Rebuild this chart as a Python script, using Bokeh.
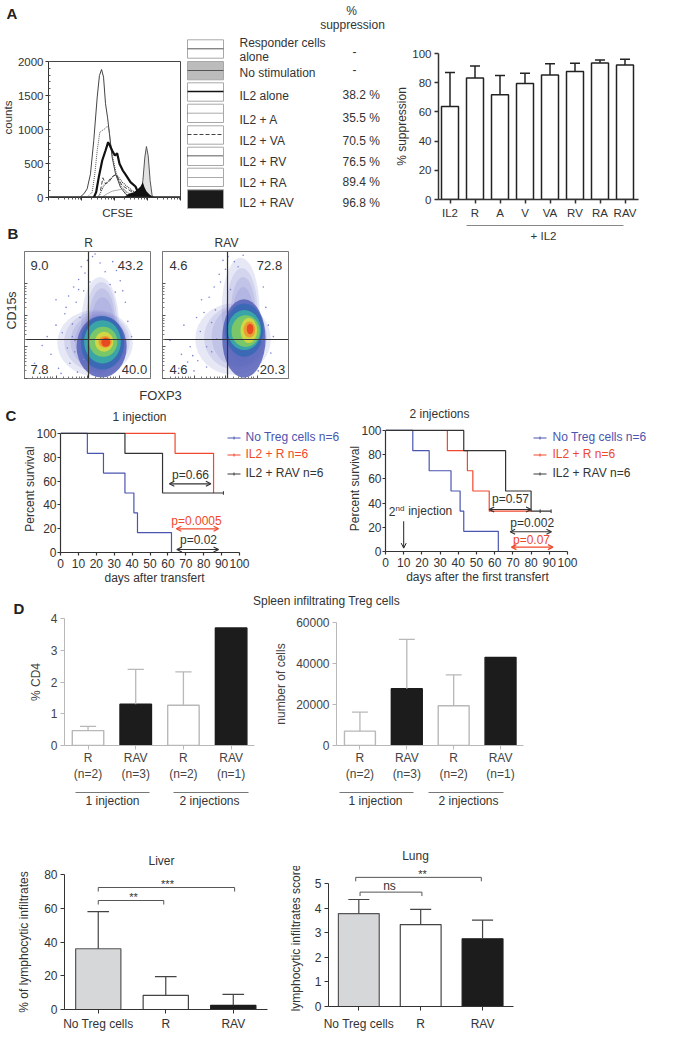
from bokeh.plotting import figure
from bokeh.layouts import row, column
from bokeh.models import Label, Arrow, OpenHead, FixedTicker, Range1d
from bokeh.embed import file_html
from bokeh.resources import INLINE

TXT = "#333333"
FONT = "Liberation Sans"
BLUE, RED, DARK = "#4a55b0", "#f0482c", "#3a3a3a"

# ---- Panel A histogram (channel, counts)
resp_x = [242,268,293,318,343,369,386,402,417,432,447,462,482,508,545,583,621]
resp_y = [10,54,128,348,839,1476,1794,1883,1770,1378,1182,937,594,348,152,54,10]
a_x = [306,331,351,369,389,407,427,444,457,470,487,508,545,596]
a_y = [29,79,348,691,961,986,1010,1044,1010,790,594,397,177,54]
il2_x = [343,361,381,407,432,452,465,482,503,520,538,563,588,621,659,684,710]
il2_y = [0,79,300,544,691,814,765,691,618,652,495,397,324,226,162,54,0]
va_x = [394,412,432,457,482,508,528,558,596,634,672]
va_y = [103,290,201,226,299,338,275,177,128,79,29]
rv_x = [381,419,457,495,520,558,596,634,672]
rv_y = [15,177,250,324,324,226,162,103,54]
ra_x = [407,444,482,533,571,596,634]
ra_y = [5,54,93,113,128,79,29]
nostim_x = [697,715,730,742,755,770,785,798]
nostim_y = [15,250,594,750,618,250,29,5]
rav_x = [571,608,646,679,697,715,727,742,765,798]
rav_y = [5,54,79,128,162,226,152,93,44,5]

# ---- Panel A table
sw_labels = ["Responder cells", "alone", "No stimulation", "IL2 alone", "IL2 + A", "IL2 + VA", "IL2 + RV", "IL2 + RA", "IL2 + RAV"]
sw_pct = ["-", "-", "38.2 %", "35.5 %", "70.5 %", "76.5 %", "89.4 %", "96.8 %"]

# ---- Panel A bars
a_cats = ["IL2", "R", "A", "V", "VA", "RV", "RA", "RAV"]
a_vals = [63.7, 83.2, 71.7, 79.4, 85.2, 87.7, 93.5, 92.2]
a_tops = [87, 91.5, 85, 86.5, 93, 93.3, 95.5, 96]

# ---- Panel B density: soft halo levels, then core levels (centre x, centre y, width, height)
core_cols = ["#5560b8","#3568b4","#3bb0a4","#86cc5e","#e0d840","#f09030","#e83c20"]
r_hx = [560,575,590,600,600,610,615,620]
r_hy = [280,290,290,290,420,440,440,430]
r_hw = [600,520,450,400,300,250,210,180]
r_hh = [520,470,440,420,760,640,540,420]
r_cx = [612,619,619,625,632,640,645]
r_cy = [250,281,289,289,289,289,285]
r_w = [397,344,291,225,146,106,71]
r_h = [486,420,341,236,157,92,71]
v_hx = [560,580,600,620,630,640,640]
v_hy = [310,320,330,540,520,500,480]
v_hw = [600,500,420,300,250,200,170]
v_hh = [560,500,470,820,700,600,480]
v_cx = [646,650,650,660,685,690,695]
v_cy = [315,381,381,373,378,385,390]
v_w = [344,304,265,225,132,93,53]
v_h = [617,420,315,250,197,126,84]
r_sx = [80,140,180,210,250,270,300,320,340,350,360,380,390,400,410,420,430,440,450,470,480,500,520,540,700,730,760,780,800,820,850,470,510,560,600,640,680,720,330,290,250,380,400,430]
r_sy = [120,260,330,190,420,80,360,510,240,650,120,430,720,300,600,50,780,480,880,690,830,930,760,960,920,850,770,690,600,450,330,150,90,980,910,840,740,680,560,40,620,330,210,700]
v_sx = [60,130,170,220,250,280,300,330,350,370,390,410,430,450,480,500,520,540,570,600,640,860,840,820,800,790,780,760,880,270,310,350,390,420,460,240,200,150]
v_sy = [300,80,420,250,60,140,370,520,90,640,210,720,310,820,930,860,960,700,920,880,970,200,420,560,720,300,130,60,330,480,620,250,440,540,760,180,130,190]

# ---- Panel C survival steps
no_x = [0,15,15,24,24,36,36,41,41,43,43,62,62]
no_y = [100,100,83.3,83.3,66.7,66.7,50,50,33.3,33.3,16.7,16.7,0]
r1_x = [36,64,64,85.5,85.5]
r1_y = [100,100,83.3,83.3,50]
v1_x = [0,36,36,57,57,91]
v1_y = [100,100,83.3,83.3,50,50]
r2_x = [34,34,45,45,48,48,57,57,80]
r2_y = [100,83.3,83.3,66.7,66.7,50,50,33.3,33.3]
v2_x = [0,43,43,66,66,80,80,91]
v2_y = [100,100,83.3,83.3,50,50,33.3,33.3]
cens1_x, cens1_y = [91], [50]
cens2_x, cens2_y = [85, 91], [33.3, 33.3]

# ---- Panel D
d_ticks = ["R\n(n=2)", "RAV\n(n=3)", "R\n(n=2)", "RAV\n(n=1)"]
cd4_vals = [0.47, 1.3, 1.27, 3.7]
cd4_tops = [0.6, 2.4, 2.32, None]
num_vals = [7000, 27700, 19400, 43000]
num_tops = [16300, 51800, 34500, None]
d_fill = ["white", "#1c1c1c", "white", "#1c1c1c"]

# ---- Panel E
e_cats = ["No Treg cells", "R", "RAV"]
liver_vals = [36, 8.4, 2.5]
liver_tops = [58, 19.5, 9]
lung_vals = [3.78, 3.33, 2.75]
lung_tops = [4.35, 3.95, 3.51]
e_fill = ["#d6d7d9", "white", "#1c1c1c"]

GEOM = {}

def mk(px0, px1, py0, py1, fx0, fx1, fy0, fy1, xr, yr, axes=True):
    p = figure(width=px1 - px0, height=py1 - py0, frame_width=fx1 - fx0, frame_height=fy1 - fy0,
               min_border_left=fx0 - px0, min_border_right=px1 - fx1,
               min_border_top=fy0 - py0, min_border_bottom=py1 - fy1,
               x_range=Range1d(*xr), y_range=Range1d(*yr),
               toolbar_location=None, output_backend="svg", outline_line_color=None,
               background_fill_color="white", border_fill_color="white")
    p.grid.visible = False
    if not axes:
        p.axis.visible = False
    else:
        for ax in p.axis:
            ax.major_label_text_font = FONT
            ax.major_label_text_font_size = "11.5px"
            ax.major_label_text_color = TXT
            ax.axis_label_text_font = FONT
            ax.axis_label_text_font_size = "12px"
            ax.axis_label_text_font_style = "normal"
            ax.axis_label_text_color = TXT
            ax.axis_line_color = "#333333"
            ax.major_tick_line_color = "#333333"
            ax.major_tick_in = 0
            ax.major_tick_out = 4
            ax.minor_tick_line_color = None
            ax.major_label_standoff = 3
            ax.axis_label_standoff = 0
    GEOM[id(p)] = (fx0, fx1, fy0, fy1, xr, yr)
    return p

def strip(px0, px1, py0, py1):
    return mk(px0, px1, py0, py1, px0, px1, py0, py1, (px0, px1), (py1, py0), axes=False)

def X(p, px):
    fx0, fx1, _, _, xr, _ = GEOM[id(p)]
    return xr[0] + (px - fx0) / (fx1 - fx0) * (xr[1] - xr[0])

def Y(p, py):
    _, _, fy0, fy1, _, yr = GEOM[id(p)]
    return yr[1] + (py - fy0) / (fy1 - fy0) * (yr[0] - yr[1])

def lab(p, px, py, text, size=12, color=TXT, align="center", bold=False, angle=0):
    p.add_layout(Label(x=X(p, px), y=Y(p, py), x_units="data", y_units="data", text=text,
                       text_font=FONT, text_font_size=f"{size}px", text_color=color,
                       text_align=align, text_baseline="middle",
                       text_font_style="bold" if bold else "normal",
                       angle=angle, angle_units="deg"))

def head(p, px, py, text):
    lab(p, px, py, text, 15, "#222222", "left", True)

def dbl(p, x0, x1, y, color):
    p.add_layout(Arrow(x_start=x0, x_end=x1, y_start=y, y_end=y, line_color=color, line_width=1.2,
                       start=OpenHead(size=5, line_color=color, line_width=1.2),
                       end=OpenHead(size=5, line_color=color, line_width=1.2)))

def errbars(p, xs, vals, tops, cap, color, w):
    for x, v, t in zip(xs, vals, tops):
        if t is None:
            continue
        p.segment(x, v, x, t, line_color=color, line_width=w)
        p.segment(x - cap, t, x + cap, t, line_color=color, line_width=w)

def cell(*figs):
    return column(*figs)

# ------------ Panel A: histogram
h = mk(13, 185, 45, 203, 48, 180, 61, 197, (0, 1000), (0, 2000))
h.outline_line_color = "#444444"
h.yaxis.ticker = FixedTicker(ticks=[0, 500, 1000, 1500, 2000], minor_ticks=list(range(0, 2001, 100)))
h.yaxis.minor_tick_line_color = "#555555"
h.yaxis.minor_tick_in = 2
h.yaxis.minor_tick_out = 0
h.yaxis.major_tick_out = 3
h.yaxis.major_label_standoff = 2
h.xaxis.ticker = FixedTicker(ticks=[0, 250, 500, 750, 1000],
                             minor_ticks=[75,120,155,180,205,225,240,325,370,405,430,455,475,490,575,620,655,680,705,725,740,825,870,905,930,955,975,990])
h.xaxis.major_label_overrides = {0: "", 250: "", 500: "", 750: "", 1000: ""}
h.xaxis.major_label_standoff = 0
h.xaxis.minor_tick_line_color = "#555555"
h.xaxis.minor_tick_out = 2
h.xaxis.minor_tick_in = 0
h.xaxis.major_tick_out = 3
h.varea(nostim_x, [0] * len(nostim_x), nostim_y, fill_color="#e2e2e2")
h.line(nostim_x, nostim_y, line_color="#555555", line_width=1)
h.line(resp_x, resp_y, line_color="#444444", line_width=1)
h.line(a_x, a_y, line_color="#555555", line_width=1, line_dash="1 1")
h.line(ra_x, ra_y, line_color="#aaaaaa", line_width=1)
h.line(va_x, va_y, line_color="#444444", line_width=1, line_dash="4 2")
h.line(rv_x, rv_y, line_color="#333333", line_width=1.1, line_dash="1 1")
h.line(il2_x, il2_y, line_color="#111111", line_width=2.2)
h.varea(rav_x, [0] * len(rav_x), rav_y, fill_color="#111111")
h.line([0, 1000], [5, 5], line_color="#222222", line_width=2)

s_a = strip(0, 185, 0, 45)
head(s_a, 6, 13, "A")
s_counts = strip(0, 13, 45, 203)
lab(s_counts, 7, 117, "counts", 11.5, angle=90)
s_cfse = strip(0, 185, 203, 226)
lab(s_cfse, 117, 212, "CFSE", 11.5)

# ------------ Panel A: key
m = strip(185, 392, 0, 226)
sw_top = [39.3, 61, 82.3, 103.7, 125.3, 146.7, 167.7, 189.3]
sw_bot = [57.7, 79.3, 100.7, 122, 143.7, 165, 186, 208]
sw_fill = ["white", "#bcbcbc", "white", "white", "white", "white", "white", "#1a1a1a"]
m.quad(left=[187] * 8, right=[223] * 8, top=sw_top, bottom=sw_bot, fill_color=sw_fill, line_color="#a8a8a8", line_width=1)
sw_line = [48.3, 70, 91, 112.7, 134, 155.3, 177]
sw_col = ["#555555", "#555555", "#111111", "#555555", "#444444", "#222222", "#aaaaaa"]
sw_w = [1, 1, 1.4, 1, 1, 1.4, 1]
sw_dash = ["solid", "solid", "solid", "1 1", "4 2", "1 1", "solid"]
for yy, c, w, d in zip(sw_line, sw_col, sw_w, sw_dash):
    m.line([187, 223], [yy, yy], line_color=c, line_width=w, line_dash=d)
for txt, yy in zip(sw_labels, [42, 56, 72, 95.3, 119, 140, 161.7, 182.3, 202.3]):
    lab(m, 239, yy, txt, 12, align="left")
for txt, yy in zip(sw_pct, [51, 69, 94.3, 117.3, 140.7, 161, 181.3, 202.3]):
    if txt == "-":
        lab(m, 354, yy, txt, 12)
    else:
        lab(m, 342, yy, txt, 12, align="left")
lab(m, 351, 10, "%", 12)
lab(m, 352, 24, "suppression", 12)

# ------------ Panel A: bars
b = mk(392, 692, 0, 218, 434, 634, 53, 199, (-0.46, 7.54), (0, 100))
bx = list(range(len(a_cats)))
b.vbar(bx, width=0.68, top=a_vals, bottom=0, fill_color="white", line_color="#222222", line_width=1.5)
errbars(b, bx, a_vals, a_tops, 0.2, "#222222", 1.5)
b.xaxis.ticker = FixedTicker(ticks=bx)
b.xaxis.major_label_overrides = dict(zip(bx, a_cats))
b.yaxis.ticker = FixedTicker(ticks=[0, 20, 40, 60, 80, 100])
b.yaxis.axis_label = "% suppression"
b.axis.axis_line_width = 1.5
b.axis.major_tick_line_width = 1.5
s_il2 = strip(392, 692, 218, 248)
s_il2.line([466, 623], [222, 222], line_color="#888888", line_width=1.2)
lab(s_il2, 543, 232, "+ IL2", 11.5)

# ------------ Panel B
def flow(px0, px1, fx0, hx, hy, hw, hh, cx, cy, w, hgt, sx, sy, cross_x, vals):
    f = mk(px0, px1, 248, 381, fx0, fx0 + 126, 251, 378, (0, 1000), (0, 1000))
    f.outline_line_color = "#777777"
    dec = [0, 250, 500, 750]
    minors = [60, 100, 130, 160, 185, 205, 225, 310, 350, 380, 410, 435, 455, 475, 560, 600, 630, 660, 685, 705, 725]
    for ax in f.axis:
        ax.ticker = FixedTicker(ticks=dec, minor_ticks=minors)
        ax.major_label_overrides = {0: "", 250: "", 500: "", 750: ""}
        ax.major_tick_in = 3
        ax.major_tick_out = 0
        ax.minor_tick_line_color = "#777777"
        ax.minor_tick_in = 2
        ax.minor_tick_out = 0
        ax.axis_line_color = "#777777"
        ax.major_tick_line_color = "#555555"
        ax.major_label_standoff = 0
    f.ellipse(hx, hy, width=hw, height=hh, fill_color="#6a72c8", line_color=None, fill_alpha=0.16)
    f.ellipse(cx, cy, width=w, height=hgt, fill_color=core_cols, line_color=None, fill_alpha=0.85)
    f.scatter(sx, sy, size=1.6, fill_color="#7c84d2", line_color=None, marker="circle")
    f.line([cross_x, cross_x], [0, 1000], line_color="#333333", line_width=1.2)
    f.line([0, 1000], [307, 307], line_color="#333333", line_width=1.2)
    for (tx, ty, t) in vals:
        lab(f, tx, ty, t, 13)
    return f

b1 = flow(18, 156, 24, r_hx, r_hy, r_hw, r_hh, r_cx, r_cy, r_w, r_h, r_sx, r_sy, 508,
          [(39, 265, "9.0"), (130, 265, "43.2"), (39, 369, "7.8"), (134, 369, "40.0")])
b2 = flow(156, 292, 162, v_hx, v_hy, v_hw, v_hh, v_cx, v_cy, v_w, v_h, v_sx, v_sy, 516,
          [(178, 265, "4.6"), (269, 265, "72.8"), (178, 369, "4.6"), (272, 369, "20.3")])
s_b = strip(0, 292, 226, 248)
head(s_b, 7, 233, "B")
lab(s_b, 88, 242, "R", 12)
lab(s_b, 226, 242, "RAV", 12)
s_cd = strip(0, 18, 248, 381)
lab(s_cd, 11, 310, "CD15s", 12.5, angle=90)
s_fx = strip(0, 292, 381, 405)
lab(s_fx, 160, 395, "FOXP3", 13)

# ------------ Panel C
def km(px0, px1, fx0, fx1, fy0, fy1, xtop, ytop, rx, ry, vx, vy, cx, cy):
    p = mk(px0, px1, 425, 570, fx0, fx1, fy0, fy1, (0, xtop), (0, ytop))
    p.xaxis.ticker = FixedTicker(ticks=list(range(0, 101, 10)))
    p.yaxis.ticker = FixedTicker(ticks=[0, 20, 40, 60, 80, 100])
    p.xaxis.bounds = (0, 100)
    p.yaxis.bounds = (0, 100)
    p.axis.major_label_text_font_size = "12px"
    p.axis.axis_line_width = 1.2
    p.axis.major_tick_line_width = 1.2
    p.axis.major_tick_out = 3
    p.yaxis.major_label_standoff = 1
    p.line(no_x, no_y, line_color=BLUE, line_width=1.2)
    p.line(rx, ry, line_color=RED, line_width=1.2)
    p.line(vx, vy, line_color="#333333", line_width=1.2)
    p.segment(cx, [v - 1.5 for v in cy], cx, [v + 1.5 for v in cy], line_color="#333333", line_width=1)
    p.yaxis.axis_label = "Percent survival"
    p.yaxis.axis_label_standoff = -4
    return p

def km_legend(p, lx0, lx1, tx, rows):
    for yy, c, t in rows:
        ly = yy + 1.5
        p.line([X(p, lx0), X(p, lx1)], [Y(p, ly), Y(p, ly)], line_color=c, line_width=1.2)
        p.line([X(p, (lx0 + lx1) / 2)] * 2, [Y(p, ly - 1.5), Y(p, ly + 1.5)], line_color=c, line_width=1)
        lab(p, tx, yy, t, 12, c if c != DARK else TXT, "left")

legend_rows = [(436, BLUE, "No Treg cells n=6"), (453, RED, "IL2 + R n=6"), (472, DARK, "IL2 + RAV n=6")]
c1 = km(0, 345, 60, 345, 425, 552, 159.2, 106.7, r1_x, r1_y, v1_x, v1_y, cens1_x, cens1_y)
km_legend(c1, 227, 240, 245, legend_rows)
dbl(c1, 60.8, 84, 57.7, "#333333")
dbl(c1, 64.7, 88.3, 19.9, RED)
dbl(c1, 65, 88.3, 2.5, "#333333")
lab(c1, 190, 474, "p=0.66", 12)
lab(c1, 196, 520, "p=0.0005", 12, RED)
lab(c1, 198, 539, "p=0.02", 12)

c2 = km(345, 692, 379, 692, 425, 551, 172, 104.1, r2_x, r2_y, v2_x, v2_y, cens2_x, cens2_y)
km_legend(c2, 527, 540, 546, legend_rows)
dbl(c2, 57, 80, 34.7, "#333333")
dbl(c2, 68.5, 91.2, 16.3, "#333333")
dbl(c2, 69.2, 92, 3.6, RED)
lab(c2, 504, 498.7, "p=0.57", 12)
lab(c2, 525.7, 522.3, "p=0.002", 12)
lab(c2, 525, 539.7, "p=0.07", 12, RED)
lab(c2, 382.3, 510.7, "2", 12, align="left")
lab(c2, 389, 508, "nd", 8, align="left")
lab(c2, 401.7, 510.7, "injection", 12, align="left")
c2.add_layout(Arrow(x_start=10, x_end=10, y_start=25, y_end=2.8, line_color="#222222", line_width=1,
                    end=OpenHead(size=5, line_color="#222222", line_width=1)))
s_c = strip(0, 692, 405, 425)
head(s_c, 5, 415, "C")
lab(s_c, 139, 416, "1 injection", 12)
lab(s_c, 439, 413, "2 injections", 12)
s_c2 = strip(0, 692, 570, 590)
lab(s_c2, 154, 577, "days after transfert", 12)
lab(s_c2, 477, 576, "days after the first transfert", 12)

# ------------ Panel D
GR = "#b8b8b8"
def dbar(px0, px1, fx0, fx1, fy0, xr, ymax, vals, tops, yticks, ylabel):
    p = mk(px0, px1, 610, 780, fx0, fx1, fy0, 745, xr, (0, ymax))
    xs = list(range(4))
    p.vbar(xs, width=0.66, top=vals, bottom=0, fill_color=d_fill, line_color=[GR, "#1c1c1c", GR, "#1c1c1c"], line_width=1.4)
    errbars(p, xs, vals, tops, 0.17, GR, 1.3)
    p.xaxis.ticker = FixedTicker(ticks=xs)
    p.xaxis.major_label_overrides = dict(zip(xs, d_ticks))
    p.xaxis.major_label_standoff = 1
    p.yaxis.ticker = FixedTicker(ticks=yticks)
    p.axis.axis_line_color = GR
    p.axis.major_tick_line_color = GR
    p.axis.major_label_text_color = "#444444"
    p.axis.major_label_text_font_size = "12px"
    p.yaxis.axis_label = ylabel
    p.yaxis.axis_label_standoff = 5
    p.yaxis.axis_label_text_color = "#444444"
    return p

d1 = dbar(25, 270, 63, 253, 618, (-0.493, 3.49), 4, cd4_vals, cd4_tops, [0, 1, 2, 3, 4], "% CD4")
d2 = dbar(270, 692, 324, 511, 622, (-0.5, 3.49), 60000, num_vals, num_tops, [0, 20000, 40000, 60000], "number of cells")
s_dl = strip(0, 25, 590, 780)
head(s_dl, 13, 608, "D")
s_d = strip(25, 692, 590, 610)
lab(s_d, 326, 600, "Spleen infiltrating Treg cells", 12)
s_d2 = strip(0, 692, 780, 840)
for x0, x1, cx, t in [(75, 149, 112, "1 injection"), (173, 248, 209, "2 injections"),
                      (339, 413, 375, "1 injection"), (428, 503, 468, "2 injections")]:
    s_d2.line([x0, x1], [788, 788], line_color="#777777", line_width=1)
    lab(s_d2, cx, 796, t, 12)

# ------------ Panel E
def ebar(px0, px1, fx0, fx1, fy0, fy1, xr, yr, ybound, vals, tops, width, cap, yticks, std, ylabel, ystd):
    p = mk(px0, px1, 862, 1036, fx0, fx1, fy0, fy1, xr, yr)
    xs = list(range(3))
    p.vbar(xs, width=width, top=vals, bottom=0, fill_color=e_fill, line_color=["#555555", "#444444", "#1c1c1c"], line_width=1.2)
    errbars(p, xs, vals, tops, cap, "#444444", 1.2)
    p.xaxis.ticker = FixedTicker(ticks=xs)
    p.xaxis.major_label_overrides = dict(zip(xs, e_cats))
    p.xaxis.major_label_standoff = std
    p.yaxis.ticker = FixedTicker(ticks=yticks)
    p.yaxis.bounds = ybound
    p.axis.major_label_text_font_size = "12px"
    p.yaxis.axis_label = ylabel
    p.yaxis.axis_label_standoff = ystd
    return p

def bracket(p, x0, x1, y, tip):
    p.line([x0, x0, x1, x1], [y - tip, y, y, y - tip], line_color="#555555", line_width=1)

e1 = ebar(0, 285, 64, 267, 870, 1005, (-0.5, 2.507), (0, 80), (0, 80), liver_vals, liver_tops, 0.67, 0.16,
          [0, 20, 40, 60, 80], 3, "% of lymphocytic infiltrates", 10)
bracket(e1, 0, 0.97, 64.6, 2.4)
bracket(e1, 0, 2.02, 72.3, 2.4)
lab(e1, 133, 892, "**", 11)
lab(e1, 167, 879, "***", 11)

e2 = ebar(285, 692, 327, 512, 865, 1002, (-0.49, 2.5), (0, 5.57), (0, 5), lung_vals, lung_tops, 0.66, 0.17,
          [0, 1, 2, 3, 4, 5], 6, "lymphocytic infiltrates score", 9)
bracket(e2, 0.02, 1.02, 4.65, 0.16)
bracket(e2, -0.05, 1.98, 5.25, 0.16)
lab(e2, 388, 881, "ns", 12)
lab(e2, 421, 869, "**", 11)
s_e = strip(0, 692, 840, 862)
lab(s_e, 161, 856, "Liver", 12)
lab(s_e, 415, 851, "Lung", 12)

hist_block = column(cell(s_a), row(cell(s_counts), cell(h)), cell(s_cfse))
left = column(
    row(hist_block, cell(m)),
    cell(s_b),
    row(cell(s_cd), cell(b1), cell(b2)),
    cell(s_fx),
)
d_block = row(cell(s_dl), column(cell(s_d), row(cell(d1), cell(d2))))
page = column(
    row(left, column(cell(b), cell(s_il2))),
    cell(s_c),
    row(cell(c1), cell(c2)),
    cell(s_c2),
    d_block,
    cell(s_d2),
    cell(s_e),
    row(cell(e1), cell(e2)),
)
open("out.html", "w").write(file_html(page, INLINE))
